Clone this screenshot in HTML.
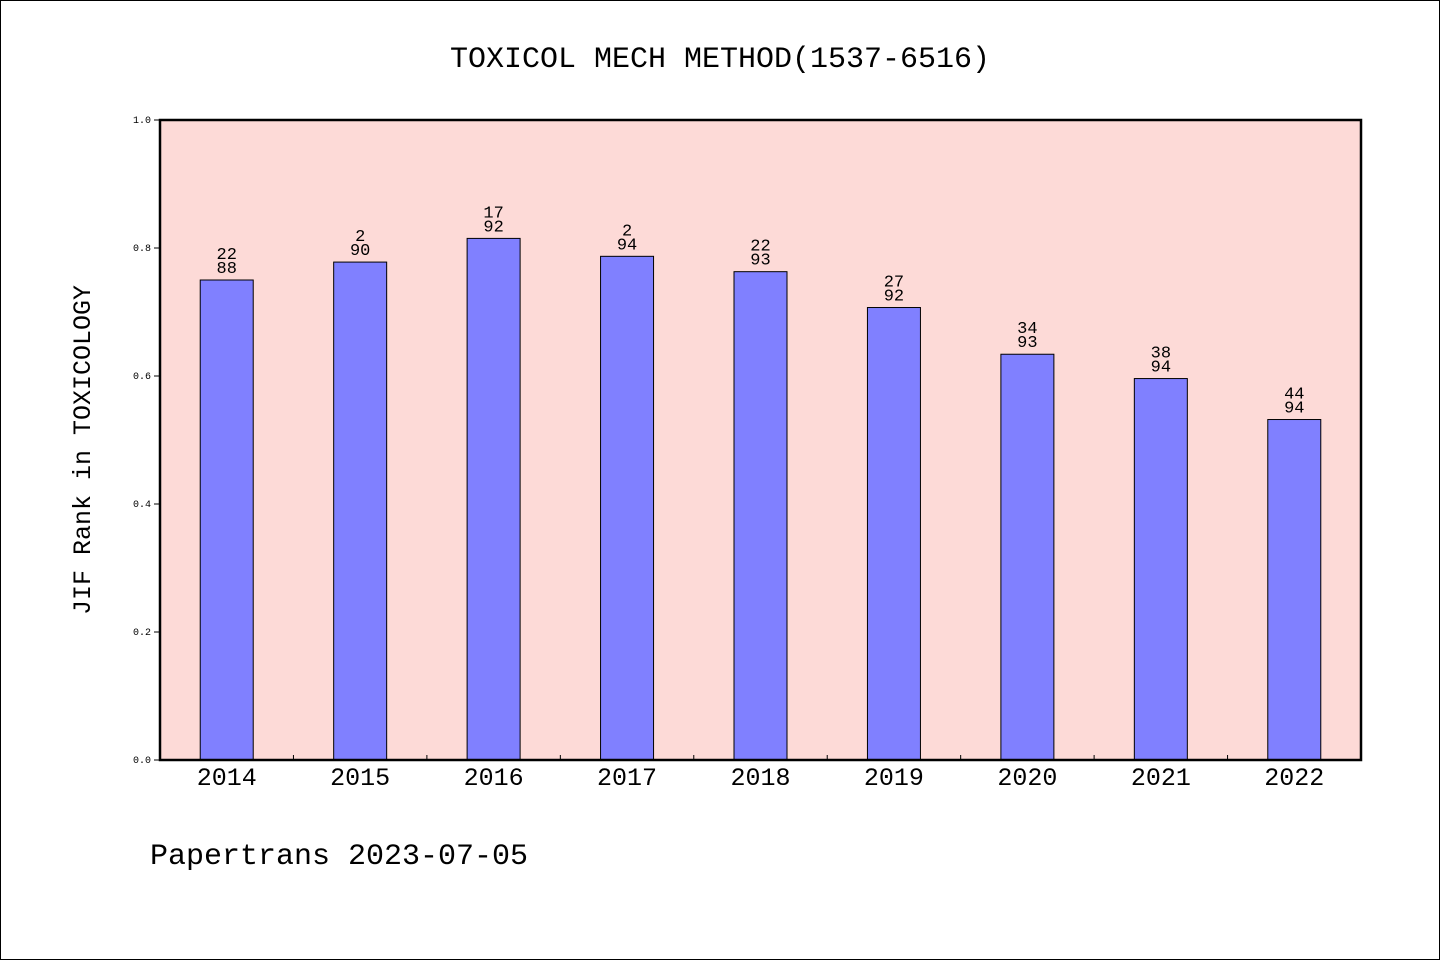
<!DOCTYPE html>
<html><head><meta charset="utf-8"><style>
html,body{margin:0;padding:0;background:#fff}
svg{display:block}
text{font-family:"Liberation Mono","WenQuanYi Zen Hei",monospace;fill:#000}
</style></head><body>
<svg width="1440" height="960" viewBox="0 0 1440 960">
<rect x="0.5" y="0.5" width="1439" height="959" fill="#fff" stroke="#000"/>
<text x="720" y="67" font-size="30" text-anchor="middle">TOXICOL MECH METHOD(1537-6516)</text>
<rect x="160" y="120" width="1201" height="640" fill="#fddad7"/>
<g id="bars"></g>
<rect x="160" y="120" width="1201" height="640" fill="none" stroke="#000" stroke-width="2.5"/>
<text transform="translate(90,450) rotate(-90)" font-size="25" text-anchor="middle">JIF Rank in TOXICOLOGY</text>
<text x="150" y="864" font-size="30">Papertrans 2023-07-05</text>
</svg>
<script>
const years=["2014","2015","2016","2017","2018","2019","2020","2021","2022"];
const values=[0.75,0.778,0.815,0.787,0.763,0.707,0.634,0.596,0.532];
const rankLabels=["22","2","17","2","22","27","34","38","44"];
const totalLabels=["88","90","92","94","93","92","93","94","94"];
const yTicks=[0,0.2,0.4,0.6,0.8,1.0];
const x0=160,x1=1361,y0=760,y1=120;
const band=(x1-x0)/years.length;
const xc=i=>x0+band*(i+0.5);
const yv=v=>y0-(y0-y1)*v;
const NS="http://www.w3.org/2000/svg";
const g=document.getElementById('bars');
function mk(t,a){const e=document.createElementNS(NS,t);for(const k in a)e.setAttribute(k,a[k]);return e;}
years.forEach((yr,i)=>{
  const r=mk('rect',{x:xc(i)-26.5,y:yv(values[i]),width:53,height:y0-yv(values[i]),fill:'#8080ff',stroke:'#000','stroke-width':1});
  
  
  g.appendChild(r);
  const t1=mk('text',{x:xc(i),y:yv(values[i])-21,'font-size':17,'text-anchor':'middle'});t1.textContent=rankLabels[i];
  
  
  g.appendChild(t1);
  const t2=mk('text',{x:xc(i),y:yv(values[i])-7,'font-size':17,'text-anchor':'middle'});t2.textContent=totalLabels[i];
  
  
  g.appendChild(t2);
  const tl=mk('text',{x:xc(i),y:785,'font-size':25,'text-anchor':'middle'});tl.textContent=yr;
  
  
  g.appendChild(tl);
  if(i>0){const tk=mk('line',{x1:x0+band*i,x2:x0+band*i,y1:y0,y2:y0-5,stroke:'#000'});
  
  
  g.appendChild(tk);}
});
yTicks.forEach(v=>{
  const tk=mk('line',{x1:x0-6,x2:x0,y1:yv(v),y2:yv(v),stroke:'#000'});
  
  
  g.appendChild(tk);
  const t=mk('text',{x:x0-9,y:yv(v)+3,'font-size':10,'text-anchor':'end'});t.textContent=v.toFixed(1);
  
  
  g.appendChild(t);
});
</script>
</body></html>
